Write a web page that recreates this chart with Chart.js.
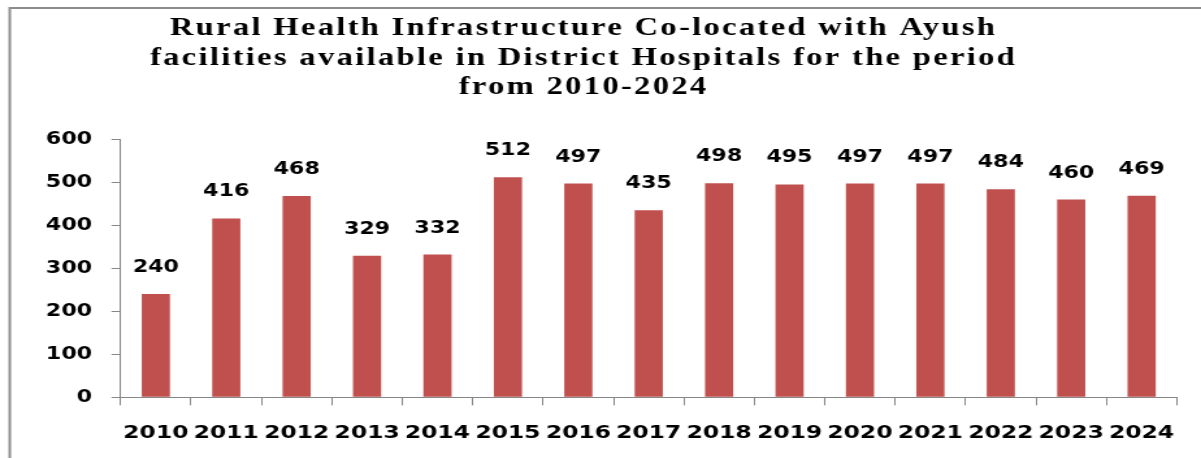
<!DOCTYPE html>
<html>
<head>
<meta charset="utf-8">
<script src="https://cdn.jsdelivr.net/npm/chart.js@4"></script>
<style>
  html, body { margin: 0; padding: 0; background: #ffffff; overflow: hidden; }
  #c { display: block; width: 1201px !important; height: 458px !important; }
</style>
</head>
<body>
<canvas id="c" width="924" height="458" style="width:1201px;height:458px;"></canvas>
<script>
const years = ['2010','2011','2012','2013','2014','2015','2016','2017','2018','2019','2020','2021','2022','2023','2024'];
const facilities = [240, 416, 468, 329, 332, 512, 497, 435, 498, 495, 497, 497, 484, 460, 469];
const yTicks = [0, 100, 200, 300, 400, 500, 600];
const titleLines = [
  'Rural Health Infrastructure Co-located with Ayush',
  'facilities available in District Hospitals for the period',
  'from 2010-2024'
];

const GRAY = '#868686';
const BAR = '#C0504D';

const framePlugin = {
  id: 'frame',
  beforeDraw(chart) {
    const ctx = chart.ctx;
    ctx.save();
    ctx.fillStyle = '#ffffff';
    ctx.fillRect(0, 0, chart.width, chart.height);
    ctx.strokeStyle = '#8c8c8c';
    ctx.lineWidth = 2;
    ctx.strokeRect(7.5, 8, chart.width + 20, chart.height + 20);
    ctx.restore();
  }
};

const titlePlugin = {
  id: 'manualTitle',
  afterDraw(chart) {
    const ctx = chart.ctx;
    ctx.save();
    ctx.font = 'bold 25px "Liberation Serif", "Times New Roman", serif';
    ctx.fillStyle = '#000000';
    ctx.textAlign = 'center';
    ctx.textBaseline = 'alphabetic';
    if ('letterSpacing' in ctx) ctx.letterSpacing = '1.8px';
    const cx = 449;
    titleLines.forEach((t, i) => ctx.fillText(t, cx, 35 + i * 29.5));
    ctx.restore();
  }
};

const valueLabels = {
  id: 'valueLabels',
  afterDatasetsDraw(chart) {
    const ctx = chart.ctx;
    const meta = chart.getDatasetMeta(0);
    ctx.save();
    ctx.font = 'bold 17px "DejaVu Sans", Verdana, sans-serif';
    ctx.fillStyle = '#000000';
    ctx.textAlign = 'center';
    ctx.textBaseline = 'alphabetic';
    meta.data.forEach((bar, i) => {
      ctx.fillText(String(facilities[i]), bar.x, bar.y - 22);
    });
    ctx.restore();
  }
};

new Chart(document.getElementById('c'), {
  type: 'bar',
  data: {
    labels: years,
    datasets: [{
      data: facilities,
      backgroundColor: BAR,
      borderWidth: 0,
      barPercentage: 0.4,
      categoryPercentage: 1.0
    }]
  },
  options: {
    responsive: false,
    devicePixelRatio: 1,
    animation: false,
    layout: { padding: { top: 139.3, left: 0, right: 18.6, bottom: 0 } },
    plugins: {
      legend: { display: false },
      title: { display: false },
      tooltip: { enabled: false }
    },
    scales: {
      x: {
        grid: { display: true, drawOnChartArea: false, drawTicks: true, tickLength: 8, color: GRAY, offset: true },
        border: { display: true, color: GRAY, width: 1 },
        ticks: {
          color: '#000000',
          font: { family: '"DejaVu Sans", Verdana, sans-serif', size: 18, weight: 'bold' },
          padding: 17,
          maxRotation: 0,
          autoSkip: false
        },
        afterFit(scale) { scale.height = 60.7; }
      },
      y: {
        min: 0,
        max: 600,
        afterBuildTicks(scale) { scale.ticks = yTicks.map(v => ({ value: v })); },
        grid: { display: true, drawOnChartArea: false, drawTicks: true, tickLength: 7, color: GRAY },
        border: { display: true, color: GRAY, width: 1 },
        ticks: {
          color: '#000000',
          font: { family: '"DejaVu Sans", Verdana, sans-serif', size: 17, weight: 'bold' },
          padding: 15
        },
        afterFit(scale) { scale.width = 92.8; }
      }
    }
  },
  plugins: [framePlugin, valueLabels, titlePlugin]
});
</script>
</body>
</html>
